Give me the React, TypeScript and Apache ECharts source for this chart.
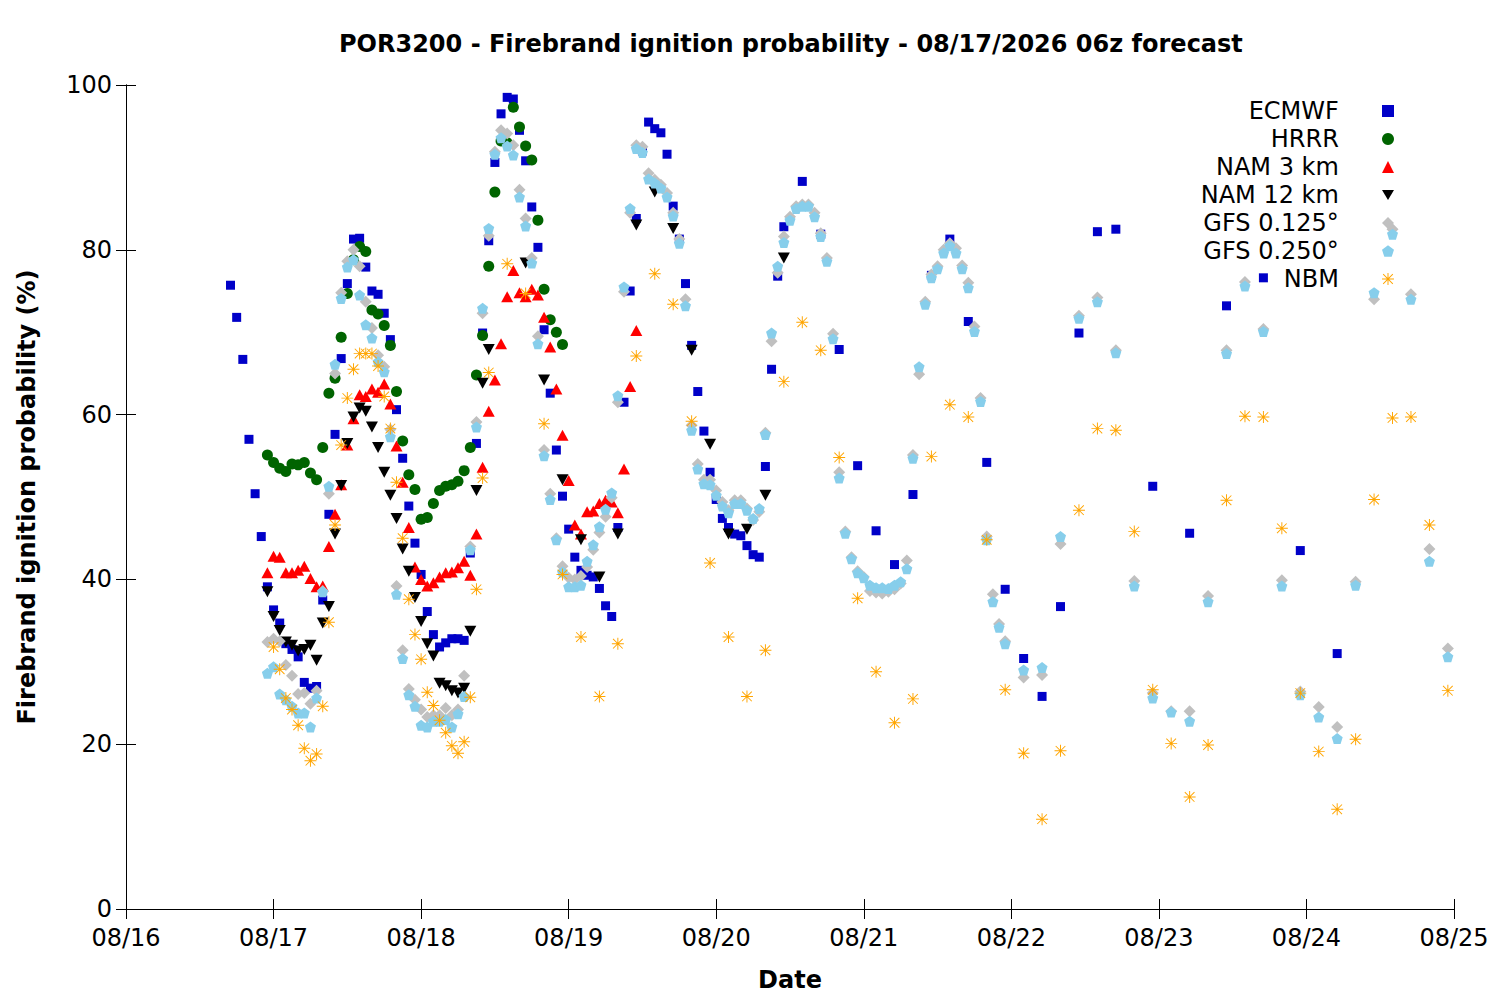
import React, { useEffect, useRef } from 'react';
import * as echarts from 'echarts';

// x = hours since 08/16 00z
const dayLabels = ['08/16', '08/17', '08/18', '08/19', '08/20', '08/21', '08/22', '08/23', '08/24', '08/25'];

const ecmwf: [number, number][] = [
  [17, 75.7], [18, 71.8], [19, 66.7], [20, 57.0], [21, 50.4], [22, 45.2], [23, 39.1], [24, 36.3], [25, 34.7], [26, 32.2],
  [27, 31.5], [28, 30.6], [29, 27.5], [30, 26.8], [31, 27.0], [32, 37.5], [33, 47.9], [34, 57.6], [35, 66.8], [36, 75.9],
  [37, 81.3], [38, 81.4], [39, 77.9], [40, 75.0], [41, 74.6], [42, 72.3], [43, 69.1], [44, 60.6], [45, 54.7], [46, 48.9],
  [47, 44.4], [48, 40.6], [49, 36.1], [50, 33.3], [51, 31.8], [52, 32.3], [53, 32.8], [54, 32.8], [55, 32.6], [56, 43.2],
  [57, 56.5], [58, 69.9], [59, 81.1], [60, 90.6], [61, 96.5], [62, 98.5], [63, 98.3], [64, 94.5], [65, 90.8], [66, 85.2],
  [67, 80.3], [68, 70.3], [69, 62.6], [70, 55.7], [71, 50.1], [72, 46.1], [73, 42.7], [74, 41.1], [75, 40.5], [76, 40.3],
  [77, 38.9], [78, 36.8], [79, 35.5], [80, 46.3], [81, 61.5], [82, 75.0], [83, 83.8], [84, 92.0], [85, 95.5], [86, 94.7],
  [87, 94.2], [88, 91.6], [89, 85.3], [90, 81.3], [91, 75.9], [92, 68.4], [93, 62.8], [94, 58.0], [95, 53.0], [96, 49.7],
  [97, 47.4], [98, 46.3], [99, 45.5], [100, 45.3], [101, 44.1], [102, 43.0], [103, 42.7], [104, 53.7], [105, 65.5],
  [106, 76.8], [107, 82.8], [110, 88.3], [113, 81.9], [116, 67.9], [119, 53.8], [122, 45.9], [125, 41.8], [128, 50.3],
  [131, 76.9], [134, 81.3], [137, 71.3], [140, 54.2], [143, 38.8], [146, 30.4], [149, 25.8], [152, 36.7], [155, 69.9],
  [158, 82.2], [161, 82.5], [167, 51.3], [173, 45.6], [179, 73.2], [185, 76.6], [191, 43.5], [197, 31.0],
];

const hrrr: [number, number][] = [
  [23, 55.1], [24, 54.2], [25, 53.5], [26, 53.1], [27, 54.0], [28, 53.9], [29, 54.2], [30, 52.9], [31, 52.1], [32, 56.0],
  [33, 62.6], [34, 64.4], [35, 69.4], [36, 74.7], [37, 78.8], [38, 80.4], [39, 79.8], [40, 72.7], [41, 72.2], [42, 70.8],
  [43, 68.4], [44, 62.8], [45, 56.8], [46, 52.7], [47, 50.9], [48, 47.3], [49, 47.5], [50, 49.2], [51, 50.8], [52, 51.3],
  [53, 51.5], [54, 51.9], [55, 53.2], [56, 56.0], [57, 64.8], [58, 69.6], [59, 78.0], [60, 87.0], [61, 93.2], [62, 93.0],
  [63, 97.3], [64, 94.9], [65, 92.6], [66, 90.9], [67, 83.6], [68, 75.2], [69, 71.5], [70, 70.0], [71, 68.5],
];

const nam3: [number, number][] = [
  [23, 40.8], [24, 42.8], [25, 42.7], [26, 40.8], [27, 40.8], [28, 41.1], [29, 41.6], [30, 40.1], [31, 39.1], [32, 39.2],
  [33, 44.0], [34, 47.9], [35, 51.5], [36, 56.3], [37, 59.5], [38, 62.4], [39, 62.2], [40, 63.1], [41, 62.7], [42, 63.7],
  [43, 61.3], [44, 56.2], [45, 51.8], [46, 46.3], [47, 41.5], [48, 40.0], [49, 39.2], [50, 39.6], [51, 40.3], [52, 40.8],
  [53, 40.9], [54, 41.4], [55, 42.2], [56, 40.5], [57, 45.5], [58, 53.6], [59, 60.4], [60, 64.2], [61, 68.6], [62, 74.3],
  [63, 77.5], [64, 74.8], [65, 74.3], [66, 75.2], [67, 74.5], [68, 71.8], [69, 68.2], [70, 63.1], [71, 57.5], [72, 52.0],
  [73, 46.6], [74, 45.5], [75, 48.2], [76, 48.3], [77, 49.2], [78, 49.6], [79, 49.4], [80, 48.1], [81, 53.4], [82, 63.4],
  [83, 70.2],
];

const nam12: [number, number][] = [
  [23, 38.5], [24, 35.5], [25, 33.8], [26, 32.4], [27, 32.0], [28, 31.3], [29, 31.5], [30, 32.0], [31, 30.2], [32, 34.7],
  [33, 36.7], [34, 45.5], [35, 51.4], [36, 56.5], [37, 59.7], [38, 60.8], [39, 60.4], [40, 58.5], [41, 56.0], [42, 53.0],
  [43, 50.2], [44, 47.4], [45, 43.7], [46, 41.0], [47, 37.8], [48, 34.9], [49, 32.2], [50, 30.7], [51, 27.4], [52, 27.1],
  [53, 26.5], [54, 26.2], [55, 26.8], [56, 33.7], [57, 50.8], [58, 63.8], [59, 67.9], [65, 78.4], [68, 64.2], [71, 52.1],
  [74, 44.8], [77, 40.3], [80, 45.5], [83, 83.0], [86, 87.0], [89, 82.6], [92, 67.8], [95, 56.4], [98, 45.5], [101, 46.1],
  [104, 50.2], [107, 79.0],
];

const gfs0125: [number, number][] = [
  [23, 32.4], [24, 32.8], [25, 32.5], [26, 29.6], [27, 28.3], [28, 26.1], [29, 26.2], [30, 24.9], [31, 26.5], [32, 38.6],
  [33, 50.4], [34, 65.0], [35, 74.8], [36, 78.6], [37, 80.0], [38, 78.0], [39, 73.7], [40, 70.5], [41, 67.2], [42, 65.8],
  [43, 58.2], [44, 39.2], [45, 31.4], [46, 26.7], [47, 25.4], [48, 24.2], [49, 23.3], [50, 23.5], [51, 23.5], [52, 24.4],
  [53, 23.5], [54, 24.2], [55, 28.3], [56, 44.0], [57, 59.1], [58, 72.3], [59, 81.7], [60, 91.9], [61, 94.5], [62, 94.1],
  [63, 92.7], [64, 87.3], [65, 83.8], [66, 79.0], [67, 69.5], [68, 55.7], [69, 50.4], [70, 45.0], [71, 41.6], [72, 40.2],
  [73, 40.0], [74, 40.4], [75, 41.5], [76, 43.6], [77, 45.7], [78, 47.6], [79, 49.9], [80, 61.5], [81, 74.9], [82, 84.5],
  [83, 92.7], [84, 92.5], [85, 89.3], [86, 88.5], [87, 87.9], [88, 86.9], [89, 84.5], [90, 81.3], [91, 74.0], [92, 58.7],
  [93, 54.0], [94, 52.1], [95, 52.1], [96, 50.8], [97, 49.4], [98, 48.4], [99, 49.6], [100, 49.6], [101, 48.6], [102, 47.2],
  [103, 48.2], [104, 57.8], [105, 68.9], [106, 77.2], [107, 81.6], [108, 84.0], [109, 85.3], [110, 85.5], [111, 85.5],
  [112, 84.5], [113, 82.0], [114, 79.0], [115, 69.8], [116, 53.0], [117, 45.8], [118, 42.7], [119, 41.0], [120, 40.3],
  [121, 38.6], [122, 38.4], [123, 38.3], [124, 38.5], [125, 38.8], [126, 39.5], [127, 42.3], [128, 55.1], [129, 64.9],
  [130, 73.7], [131, 77.0], [132, 78.0], [133, 80.0], [134, 80.8], [135, 80.2], [136, 78.1], [137, 76.0], [138, 70.7],
  [139, 62.0], [140, 45.2], [141, 38.2], [142, 34.6], [143, 32.5], [146, 28.1], [149, 28.4], [152, 44.3], [155, 72.0],
  [158, 74.2], [161, 67.8], [164, 39.8], [167, 26.2], [170, 24.0], [173, 24.0], [176, 38.0], [179, 67.8], [182, 76.1],
  [185, 70.4], [188, 39.9], [191, 26.4], [194, 24.5], [197, 22.1], [200, 39.7], [203, 74.0], [206, 82.5], [209, 74.6],
  [212, 43.7], [215, 31.6],
];

const gfs0250: [number, number][] = [
  [23, 28.6], [24, 29.4], [25, 26.1], [26, 25.4], [27, 24.6], [28, 23.8], [29, 23.8], [30, 22.1], [31, 25.6], [32, 38.5],
  [33, 51.3], [34, 66.1], [35, 74.1], [36, 77.9], [37, 78.8], [38, 74.5], [39, 70.9], [40, 69.3], [41, 66.4], [42, 65.2],
  [43, 57.3], [44, 38.2], [45, 30.4], [46, 26.0], [47, 24.6], [48, 22.3], [49, 22.1], [50, 22.8], [51, 22.8], [52, 23.0],
  [53, 22.1], [54, 23.7], [55, 25.8], [56, 43.6], [57, 58.5], [58, 72.9], [59, 82.6], [60, 91.6], [61, 93.6], [62, 92.6],
  [63, 91.5], [64, 86.4], [65, 82.9], [66, 78.4], [67, 68.6], [68, 55.0], [69, 49.7], [70, 44.8], [71, 40.9], [72, 39.1],
  [73, 39.1], [74, 39.3], [75, 42.2], [76, 44.2], [77, 46.4], [78, 48.5], [79, 50.5], [80, 62.3], [81, 75.5], [82, 85.0],
  [83, 92.3], [84, 91.8], [85, 88.6], [86, 88.1], [87, 87.5], [88, 86.4], [89, 84.1], [90, 80.8], [91, 73.2], [92, 58.1],
  [93, 53.4], [94, 51.6], [95, 51.5], [96, 50.2], [97, 48.9], [98, 48.1], [99, 49.2], [100, 49.2], [101, 48.4], [102, 47.4],
  [103, 48.6], [104, 57.6], [105, 69.9], [106, 78.0], [107, 80.9], [108, 83.6], [109, 85.0], [110, 85.3], [111, 85.3],
  [112, 84.0], [113, 81.6], [114, 78.6], [115, 69.2], [116, 52.3], [117, 45.6], [118, 42.5], [119, 40.8], [120, 40.2],
  [121, 39.3], [122, 39.0], [123, 39.0], [124, 38.9], [125, 39.3], [126, 39.7], [127, 41.3], [128, 54.7], [129, 65.8],
  [130, 73.4], [131, 76.6], [132, 77.7], [133, 79.6], [134, 80.5], [135, 79.6], [136, 77.7], [137, 75.4], [138, 70.1],
  [139, 61.6], [140, 44.8], [141, 37.3], [142, 34.2], [143, 32.2], [146, 29.0], [149, 29.3], [152, 45.2], [155, 71.7],
  [158, 73.7], [161, 67.5], [164, 39.2], [167, 25.6], [170, 23.9], [173, 22.8], [176, 37.3], [179, 67.4], [182, 75.6],
  [185, 70.1], [188, 39.2], [191, 26.0], [194, 23.3], [197, 20.7], [200, 39.3], [203, 74.8], [206, 81.9], [209, 74.0],
  [212, 42.2], [215, 30.6],
];

const nbm: [number, number][] = [
  [24, 31.8], [25, 29.1], [26, 25.6], [27, 24.2], [28, 22.3], [29, 19.5], [30, 18.0], [31, 18.8], [32, 24.6], [33, 34.8],
  [34, 46.6], [35, 56.3], [36, 62.0], [37, 65.5], [38, 67.4], [39, 67.4], [40, 67.4], [41, 65.9], [42, 62.2], [43, 58.3],
  [44, 51.8], [45, 45.0], [46, 37.6], [47, 33.3], [48, 30.3], [49, 26.3], [50, 24.7], [51, 22.9], [52, 21.4], [53, 19.8],
  [54, 18.9], [55, 20.3], [56, 25.7], [57, 38.8], [58, 52.3], [59, 65.1], [62, 78.3], [65, 74.7], [68, 58.9], [71, 40.6],
  [74, 33.0], [77, 25.8], [80, 32.2], [83, 67.1], [86, 77.1], [89, 73.4], [92, 59.2], [95, 42.0], [98, 33.0], [101, 25.8],
  [104, 31.4], [107, 64.0], [110, 71.2], [113, 67.8], [116, 54.8], [119, 37.7], [122, 28.8], [125, 22.6], [128, 25.5],
  [131, 54.9], [134, 61.2], [137, 59.7], [140, 44.8], [143, 26.6], [146, 18.9], [149, 10.9], [152, 19.2], [155, 48.4],
  [158, 58.3], [161, 58.1], [164, 45.8], [167, 26.6], [170, 20.1], [173, 13.6], [176, 19.9], [179, 49.6], [182, 59.8],
  [185, 59.7], [188, 46.2], [191, 26.2], [194, 19.1], [197, 12.1], [200, 20.6], [203, 49.7], [206, 59.6], [209, 59.7],
  [212, 46.6], [215, 26.5],
];

const FONT = 'DejaVu Sans';

const downTriangle = 'path://M0,0 L12,0 L6,10 Z';
const pentagon = 'path://M10,0 L19.51,6.91 L15.88,18.09 L4.12,18.09 L0.49,6.91 Z';
const asterisk =
  'path://M0,9.2 H20 V10.8 H0 Z M9.2,0 H10.8 V20 H9.2 Z ' +
  'M2.5,1.4 L18.6,17.5 L17.5,18.6 L1.4,2.5 Z M17.5,1.4 L18.6,2.5 L2.5,18.6 L1.4,17.5 Z';

const App: React.FC = () => {
  const chartRef = useRef<HTMLDivElement>(null);

  useEffect(() => {
    document.body.style.margin = '0';
    if (!chartRef.current) return;
    const chart = echarts.init(chartRef.current, undefined, { renderer: 'svg' });

    const mk = (name: string, data: [number, number][], symbol: string, size: number | number[], color: string) => ({
      name,
      type: 'scatter',
      data,
      symbol,
      symbolSize: size,
      itemStyle: { color, opacity: 1 },
      emphasis: { disabled: true },
    });

    const hiddenAxis = {
      axisLine: { show: true, lineStyle: { color: '#000', width: 1 } },
      axisTick: { show: true, inside: true, length: 10, lineStyle: { color: '#000' } },
      axisLabel: { show: false },
      splitLine: { show: false },
    };

    const option: echarts.EChartsOption = {
      animation: false,
      backgroundColor: '#fff',
      title: {
        text: 'POR3200 - Firebrand ignition probability - 08/17/2026 06z forecast',
        left: 334,
        top: 27,
        textStyle: { fontFamily: FONT, fontSize: 24, fontWeight: 'bold', color: '#000' },
      },
      legend: {
        orient: 'vertical',
        align: 'right',
        right: 101,
        top: 94,
        itemWidth: 12,
        itemHeight: 12,
        itemGap: 4,
        // gap between the right-aligned text and its sample
        formatter: (name: string) => name + '\u00a0\u00a0\u00a0\u00a0\u00a0',
        textStyle: { fontFamily: FONT, fontSize: 24, color: '#000', lineHeight: 24 },
        data: ['ECMWF', 'HRRR', 'NAM 3 km', 'NAM 12 km', 'GFS 0.125°', 'GFS 0.250°', 'NBM'],
      },
      grid: { left: 126, right: 46, top: 85, bottom: 91 },
      xAxis: [
        {
          type: 'value',
          min: 0,
          max: 216,
          interval: 24,
          name: 'Date',
          nameLocation: 'middle',
          nameGap: 59,
          nameTextStyle: { fontFamily: FONT, fontSize: 24, fontWeight: 'bold', color: '#000' },
          axisLine: { show: true, lineStyle: { color: '#000', width: 1 } },
          axisTick: { show: true, inside: true, length: 10, lineStyle: { color: '#000' } },
          axisLabel: {
            margin: 17,
            fontFamily: FONT,
            fontSize: 24,
            color: '#000',
            formatter: (v: number) => dayLabels[Math.round(v / 24)] ?? '',
          },
          splitLine: { show: false },
        },
        { type: 'value', position: 'top', min: 0, max: 216, interval: 24, ...hiddenAxis },
      ],
      yAxis: [
        {
          type: 'value',
          min: 0,
          max: 100,
          interval: 20,
          name: 'Firebrand ignition probability (%)',
          nameLocation: 'middle',
          nameGap: 87,
          nameTextStyle: { fontFamily: FONT, fontSize: 24, fontWeight: 'bold', color: '#000' },
          axisLine: { show: true, lineStyle: { color: '#000', width: 1 } },
          axisTick: { show: true, inside: true, length: 10, lineStyle: { color: '#000' } },
          axisLabel: { margin: 14, fontFamily: FONT, fontSize: 24, color: '#000' },
          splitLine: { show: false },
        },
        { type: 'value', position: 'right', min: 0, max: 100, interval: 20, ...hiddenAxis },
      ],
      series: [
        mk('ECMWF', ecmwf, 'rect', 9, '#0000c8'),
        mk('HRRR', hrrr, 'circle', 11, '#006400'),
        mk('NAM 3 km', nam3, 'triangle', [12, 11], '#ff0000'),
        mk('NAM 12 km', nam12, downTriangle, [12, 11], '#000000'),
        mk('GFS 0.125°', gfs0125, 'diamond', [12, 12], '#c0c0c0'),
        mk('GFS 0.250°', gfs0250, pentagon, [11, 11], '#87ceeb'),
        mk('NBM', nbm, asterisk, [12, 12], '#ffa500'),
      ] as any,
    };

    chart.setOption(option);
    return () => {
      chart.dispose();
    };
  }, []);

  return <div ref={chartRef} style={{ width: 1500, height: 1000 }} />;
};

export default App;
